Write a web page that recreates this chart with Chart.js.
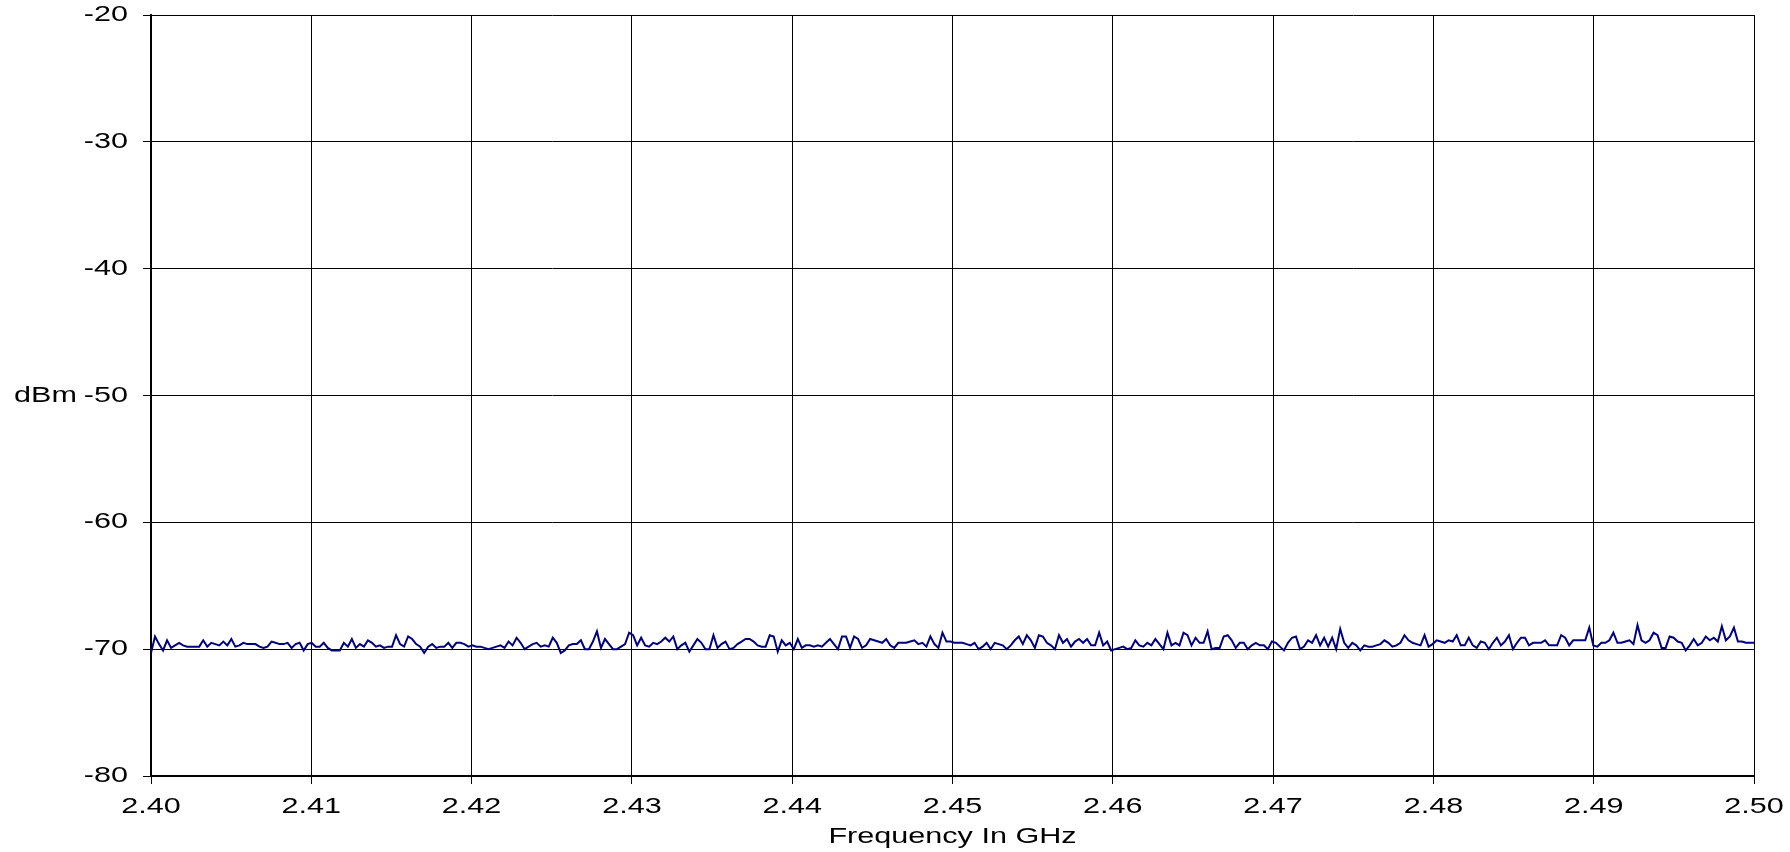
<!DOCTYPE html>
<html>
<head>
<meta charset="utf-8">
<title>Spectrum</title>
<script src="https://cdn.jsdelivr.net/npm/chart.js@4"></script>
<style>
  body { margin: 0; background: #fff; }
  #wrap { width: 1790px; height: 852px; }
</style>
</head>
<body>
<div id="wrap"><canvas id="chart" width="1790" height="852"></canvas></div>
<script>
// sweep settings (GHz)
const freqStart = 2.40;
const freqStop = 2.50;
const yTicks = [-80, -70, -60, -50, -40, -30, -20];
const xTicks = ['2.40', '2.41', '2.42', '2.43', '2.44', '2.45', '2.46', '2.47', '2.48', '2.49', '2.50'];

const level = [
  -70.3, -69.0, -69.6, -70.1, -69.3, -69.9, -69.7, -69.5, -69.7, -69.8,
  -69.8, -69.8, -69.8, -69.3, -69.8, -69.5, -69.6, -69.7, -69.4, -69.7,
  -69.2, -69.8, -69.7, -69.5, -69.6, -69.6, -69.6, -69.8, -69.9, -69.8,
  -69.4, -69.5, -69.6, -69.6, -69.5, -69.9, -69.6, -69.5, -70.1, -69.6,

  -69.5, -69.8, -69.8, -69.5, -69.9, -70.1, -70.1, -70.1, -69.5, -69.8,
  -69.2, -69.9, -69.6, -69.8, -69.3, -69.5, -69.8, -69.7, -69.9, -69.8,
  -69.8, -68.9, -69.6, -69.8, -69.0, -69.2, -69.6, -69.8, -70.3, -69.8,
  -69.6, -69.9, -69.8, -69.8, -69.5, -69.9, -69.5, -69.5, -69.6, -69.8,

  -69.7, -69.8, -69.8, -69.9, -70.0, -69.9, -69.8, -69.7, -69.9, -69.4,
  -69.7, -69.1, -69.5, -70.0, -69.8, -69.6, -69.5, -69.8, -69.7, -69.8,
  -69.1, -69.5, -70.3, -70.1, -69.7, -69.6, -69.6, -69.3, -70.0, -70.0,
  -69.4, -68.6, -69.9, -69.2, -69.6, -70.0, -70.0, -69.8, -69.6, -68.7,

  -68.9, -69.7, -69.1, -69.7, -69.8, -69.5, -69.6, -69.4, -69.1, -69.4,
  -69.0, -70.0, -69.7, -69.5, -70.2, -69.7, -69.2, -69.5, -70.0, -70.0,
  -68.9, -69.9, -69.6, -69.4, -70.0, -69.9, -69.6, -69.4, -69.2, -69.2,
  -69.4, -69.7, -69.8, -69.8, -68.9, -69.0, -70.2, -69.3, -69.7, -69.5,

  -70.0, -69.2, -69.9, -69.7, -69.7, -69.8, -69.7, -69.8, -69.5, -69.2,
  -69.6, -70.0, -69.0, -69.0, -69.9, -69.0, -69.2, -69.9, -69.7, -69.2,
  -69.3, -69.4, -69.5, -69.2, -69.7, -69.9, -69.5, -69.5, -69.5, -69.4,
  -69.3, -69.6, -69.5, -69.8, -69.0, -69.6, -69.9, -68.7, -69.4, -69.4,

  -69.5, -69.5, -69.5, -69.6, -69.7, -69.5, -70.0, -69.8, -69.5, -70.0,
  -69.5, -69.6, -69.7, -70.0, -69.7, -69.3, -69.0, -69.6, -68.9, -69.3,
  -69.9, -68.9, -69.0, -69.5, -69.7, -70.0, -68.9, -69.5, -69.2, -69.8,
  -69.4, -69.2, -69.5, -69.2, -69.7, -69.7, -68.7, -69.7, -69.4, -70.1,

  -70.0, -69.9, -69.8, -70.0, -69.9, -69.3, -69.7, -69.8, -69.5, -69.7,
  -69.2, -69.6, -70.0, -68.7, -69.7, -69.5, -69.7, -68.7, -68.9, -69.7,
  -69.1, -69.5, -69.5, -68.6, -70.0, -69.9, -69.9, -69.0, -68.9, -69.3,
  -69.9, -69.5, -69.5, -70.0, -69.7, -69.5, -69.7, -69.7, -70.0, -69.4,

  -69.5, -69.8, -70.1, -69.5, -69.1, -69.0, -70.0, -69.8, -69.3, -69.5,
  -68.9, -69.7, -69.1, -69.8, -69.1, -70.0, -68.4, -69.5, -69.9, -69.5,
  -69.7, -70.1, -69.7, -69.8, -69.8, -69.7, -69.6, -69.3, -69.5, -69.8,
  -69.7, -69.5, -68.9, -69.3, -69.5, -69.6, -69.7, -68.9, -69.8, -69.6,

  -69.3, -69.4, -69.5, -69.3, -69.4, -68.9, -69.7, -69.7, -69.1, -69.7,
  -69.9, -69.4, -69.5, -70.0, -69.5, -69.1, -69.7, -69.4, -68.9, -70.0,
  -69.5, -69.1, -69.1, -69.7, -69.5, -69.5, -69.5, -69.3, -69.7, -69.7,
  -69.7, -68.9, -69.1, -69.7, -69.3, -69.3, -69.3, -69.3, -68.3, -69.7,

  -69.8, -69.5, -69.5, -69.3, -68.7, -69.5, -69.5, -69.4, -69.3, -69.6,
  -68.1, -69.3, -69.5, -69.3, -68.7, -68.9, -69.9, -69.9, -69.0, -69.1,
  -69.4, -69.5, -70.1, -69.7, -69.2, -69.7, -69.5, -69.0, -69.3, -69.1,
  -69.4, -68.2, -69.3, -69.0, -68.3, -69.4, -69.4, -69.5, -69.5, -69.5
];

const step = (freqStop - freqStart) / (level.length - 1);
const points = level.map((v, i) => ({ x: freqStart + i * step, y: v }));

const FONT = "'Liberation Sans', Arial, sans-serif";
const FONT_SIZE = 22;
const TEXT_STRETCH = 1.39; // the original lettering is drawn wide

// widen every piece of text around its anchor point
const canvas = document.getElementById('chart');
const ctx2d = canvas.getContext('2d');
const plainFillText = ctx2d.fillText;
ctx2d.fillText = function (text, x, y, maxWidth) {
  this.save();
  this.translate(x, y);
  this.scale(TEXT_STRETCH, 1);
  if (maxWidth === undefined) plainFillText.call(this, text, 0, 0);
  else plainFillText.call(this, text, 0, 0, maxWidth / TEXT_STRETCH);
  this.restore();
};

// "dBm" sits horizontally next to the -50 label
const unitLabel = {
  id: 'unitLabel',
  afterDraw(chart) {
    const { ctx, scales } = chart;
    ctx.save();
    ctx.font = FONT_SIZE + 'px ' + FONT;
    ctx.fillStyle = '#000';
    ctx.textAlign = 'left';
    ctx.textBaseline = 'middle';
    ctx.fillText('dBm', 14, scales.y.getPixelForValue(-50));
    ctx.restore();
  }
};

new Chart(canvas, {
  type: 'line',
  data: {
    datasets: [{
      data: points,
      borderColor: '#00007f',
      borderWidth: 2,
      pointRadius: 0,
      tension: 0,
      fill: false
    }]
  },
  options: {
    responsive: false,
    animation: false,
    layout: { padding: { top: 15, right: 36, left: 0, bottom: 0 } },
    plugins: { legend: { display: false }, tooltip: { enabled: false } },
    scales: {
      x: {
        type: 'linear',
        min: freqStart,
        max: freqStop,
        afterBuildTicks(scale) {
          scale.ticks = xTicks.map(t => ({ value: parseFloat(t) }));
        },
        afterFit(scale) {
          scale.height = 76;
          scale.paddingLeft = 0;
          scale.paddingRight = 0;
        },
        ticks: {
          color: '#000',
          font: { family: FONT, size: FONT_SIZE },
          padding: 10,
          maxRotation: 0,
          autoSkip: false,
          callback: (v) => Number(v).toFixed(2)
        },
        grid: { color: '#000', lineWidth: 1, tickLength: 8 },
        border: { color: '#000', width: 2 },
        title: {
          display: true,
          text: 'Frequency In GHz',
          color: '#000',
          font: { family: FONT, size: FONT_SIZE },
          padding: { top: 0, bottom: 2 }
        }
      },
      y: {
        min: -80,
        max: -20,
        afterBuildTicks(scale) {
          scale.ticks = yTicks.map(v => ({ value: v }));
        },
        afterFit(scale) {
          scale.width = 151;
          scale.paddingTop = 0;
          scale.paddingBottom = 0;
        },
        ticks: {
          color: '#000',
          font: { family: FONT, size: FONT_SIZE },
          padding: 15
        },
        grid: { color: '#000', lineWidth: 1, tickLength: 8 },
        border: { color: '#000', width: 2 }
      }
    }
  },
  plugins: [unitLabel]
});
</script>
</body>
</html>
